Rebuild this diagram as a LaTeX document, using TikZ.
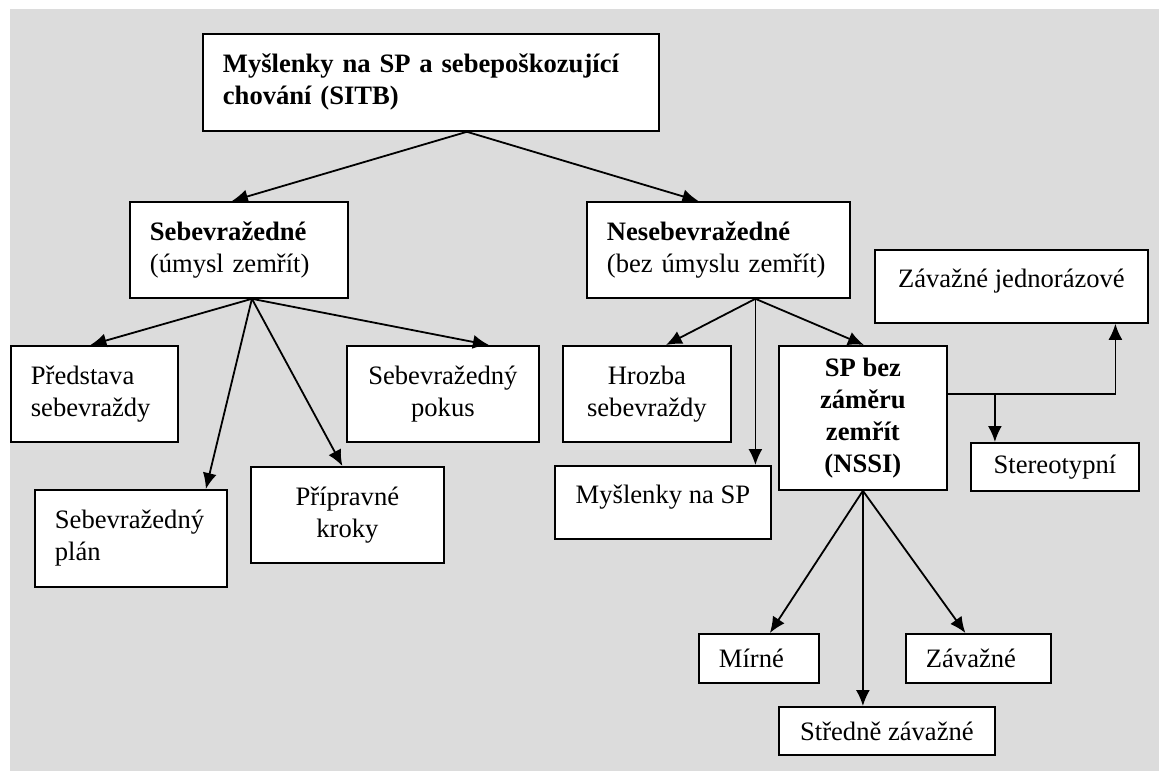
\documentclass[tikz,border=0pt]{standalone}
\usepackage{fontspec}
\setmainfont{Liberation Serif}
\usetikzlibrary{arrows.meta}
\definecolor{bggray}{RGB}{220,220,220}
\hyphenpenalty=10000
\exhyphenpenalty=10000

\begin{document}
\begin{tikzpicture}[x=1pt, y=-1pt, >={Latex[length=16pt,width=14pt]},
    box/.style={draw, fill=white, line width=1.8pt, anchor=north west, inner ysep=0pt,
        font=\fontsize{26.6}{32}\selectfont},
    lbox/.style={box, inner xsep=20pt, align=left},
    cbox/.style={box, inner xsep=10pt, align=center},
    head/.style={font=\fontsize{26.6}{32}\selectfont\bfseries},
    link/.style={->, line width=1.8pt}]

    \fill[bggray] (10,9) rectangle (1159,771);
    \useasboundingbox (0,0) rectangle (1159,771);

    \node[lbox, head, text width=416pt, minimum height=97pt] (sitb) at (202,33) {Myšlenky na SP a sebepoškozující\\chování (SITB)};
    \node[lbox, text width=178pt, minimum height=96pt] (suic) at (129,201) {\textbf{Sebevražedné}\\(úmysl zemřít)};
    \node[lbox, text width=223pt, minimum height=96pt] (nonsuic) at (586,201) {\textbf{Nesebevražedné}\\(bez úmyslu zemřít)};

    \node[lbox, text width=127pt, minimum height=96pt] (idea) at (10,345) {Představa\\sebevraždy};
    \node[cbox, minimum width=192pt, minimum height=96pt] (attempt) at (346,345) {Sebevražedný\\pokus};
    \node[lbox, text width=152pt, minimum height=97pt] (plan) at (34,489) {Sebevražedný\\plán};
    \node[cbox, minimum width=193pt, minimum height=96pt] (prep) at (250,466) {Přípravné\\kroky};

    \node[cbox, minimum width=168pt, minimum height=96pt] (threat) at (562,345) {Hrozba\\sebevraždy};
    \node[cbox, minimum width=216pt, minimum height=73pt, text depth=17pt] (thoughts) at (554,465) {Myšlenky na SP};
    \node[cbox, head, minimum width=168pt, minimum height=144pt] (nssi) at (778,345) {SP bez\\záměru\\zemřít\\(NSSI)};
    \node[cbox, minimum width=273pt, minimum height=73pt, text depth=17pt] (single) at (874,249) {Závažné jednorázové};
    \node[cbox, minimum width=168pt, minimum height=48pt] (stereo) at (970,442) {Stereotypní};

    \node[lbox, text width=80pt, minimum height=49pt] (mild) at (698,633) {Mírné};
    \node[cbox, minimum width=216pt, minimum height=48pt] (moderate) at (778,706) {Středně závažné};
    \node[lbox, text width=105pt, minimum height=49pt] (severe) at (905,633) {Závažné};

    \coordinate (sitbout) at ([xshift=36pt]sitb.south);
    \coordinate (suicout) at ([xshift=13pt]suic.south);
    \coordinate (nsout) at ([xshift=37pt]nonsuic.south);
    \coordinate (nssiside) at ([yshift=24pt]nssi.east);
    \coordinate (stereoin) at ([xshift=-60pt]stereo.north);

    \draw[link] (sitbout) -- ([xshift=-7pt]suic.north);
    \draw[link] (sitbout) -- ([xshift=-20pt]nonsuic.north);

    \foreach \n/\s in {idea/-4, plan/75, prep/-5, attempt/46}
        \draw[link] (suicout) -- ([xshift=\s pt]\n.north);

    \foreach \n/\s in {threat/19, nssi/1}
        \draw[link] (nsout) -- ([xshift=\s pt]\n.north);
    \draw[link] (nsout) -- (nsout |- thoughts.north);

    \draw[link] (nssiside) -| ([xshift=104pt]single.south);
    \draw[link] (stereoin |- nssiside) -- (stereoin);

    \foreach \n/\s in {mild/11, severe/-13}
        \draw[link] (nssi.south) -- ([xshift=\s pt]\n.north);
    \draw[link] (nssi.south) -- (nssi.south |- moderate.north);
\end{tikzpicture}
\end{document}
